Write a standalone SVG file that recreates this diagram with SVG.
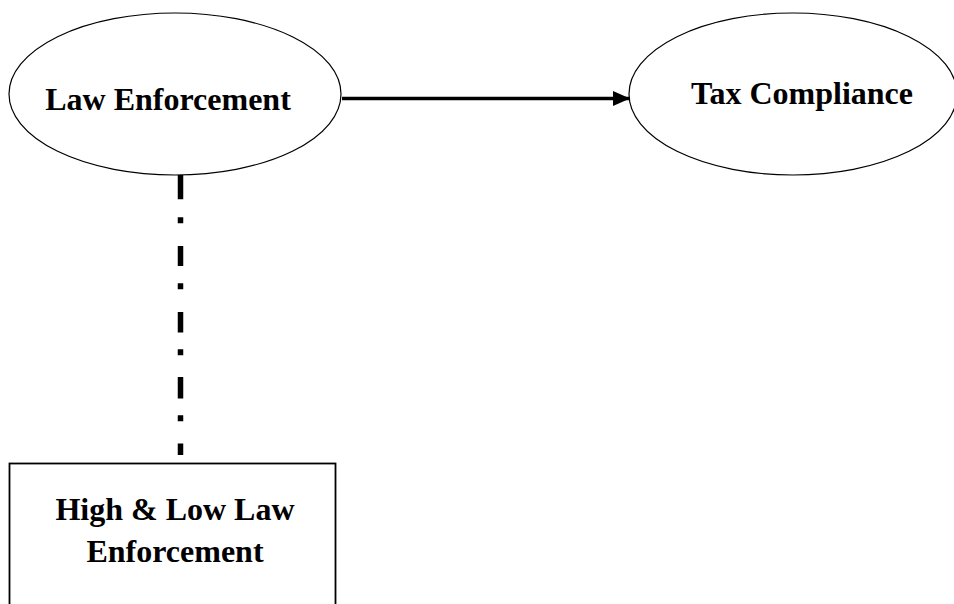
<svg xmlns="http://www.w3.org/2000/svg" width="954" height="604" viewBox="0 0 954 604">
<style>
.node{fill:#fff;stroke:#000;stroke-width:1.2}
.box{fill:#fff;stroke:#000;stroke-width:1.8}
.lbl{font-family:"Liberation Serif","Times New Roman",serif;font-weight:bold;font-size:32px;fill:#000;text-anchor:middle}
.arrow{stroke:#000;stroke-width:3.5;fill:none}
.dashdot{stroke:#000;stroke-width:5.5;fill:none;stroke-dasharray:24.3 18 6 22.7 20 17.3 6 22.7 20.6 16.7 6 21.7 21.6 16.7 6 22.3 12 20}
</style>
<defs>
<marker id="ah" markerUnits="userSpaceOnUse" markerWidth="18" markerHeight="16" refX="17" refY="7.5" orient="auto">
<path d="M0,0 L17,7.5 L0,15 Z" fill="#000"/>
</marker>
</defs>
<rect width="954" height="604" fill="#fff"/>
<g id="connectors">
<line class="arrow" x1="342" y1="98.5" x2="630" y2="98.5" marker-end="url(#ah)"/>
<line class="dashdot" x1="180.5" y1="175" x2="180.5" y2="455"/>
</g>
<g id="law-enforcement">
<ellipse class="node" cx="175" cy="94" rx="166" ry="81"/>
<text class="lbl" x="168" y="110">Law Enforcement</text>
</g>
<g id="tax-compliance">
<ellipse class="node" cx="793" cy="94" rx="164" ry="81"/>
<text class="lbl" x="802" y="104">Tax Compliance</text>
</g>
<g id="high-low">
<rect class="box" x="9.5" y="463.5" width="326" height="200"/>
<text class="lbl" x="175" y="520">High &amp; Low Law</text>
<text class="lbl" x="175" y="562">Enforcement</text>
</g>
</svg>
